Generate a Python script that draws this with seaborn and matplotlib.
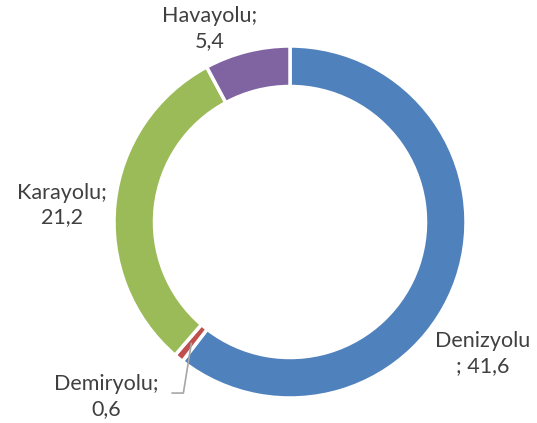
import numpy as np
import matplotlib
matplotlib.use('Agg')
import matplotlib.pyplot as plt
import seaborn as sns

labels = ['Denizyolu', 'Demiryolu', 'Karayolu', 'Havayolu']
values = [41.6, 0.6, 21.2, 5.4]
value_text = ['41,6', '0,6', '21,2', '5,4']
colors = ['#4F81BD', '#C0504D', '#9BBB59', '#8064A2']

sns.set_theme(style='white')
plt.rcParams['font.family'] = ['Lato', 'DejaVu Sans']

fig = plt.figure(figsize=(5.37, 4.23), dpi=100)
ax = fig.add_axes([114 / 537, 25 / 423, 352 / 537, 352 / 423])
wedges, _ = ax.pie(values, colors=colors, startangle=90, counterclock=False,
                   radius=1, wedgeprops=dict(width=0.23, edgecolor='white', linewidth=2.5))
ax.set_xlim(-1, 1)
ax.set_ylim(-1, 1)
ax.set_aspect('equal')
ax.axis('off')

txt = '#404040'
fs = 15.5
# label positions (data coords, outside the ring)
pos = {
    'Denizyolu': (1.095, -0.747),
    'Demiryolu': (-1.045, -0.99),
    'Karayolu': (-1.295, 0.097),
    'Havayolu': (-0.455, 1.10),
}
for lab, v in zip(labels, value_text):
    if lab == 'Denizyolu':
        s = lab + '\n; ' + v
    else:
        s = lab + ';\n' + v
    x, y = pos[lab]
    ax.text(x, y, s, ha='center', va='center', fontsize=fs, color=txt,
            linespacing=1.3, clip_on=False)

# leader line for the tiny Demiryolu slice
w = wedges[1]
mid = np.deg2rad((w.theta1 + w.theta2) / 2)
r = 0.885
x0, y0 = r * np.cos(mid), r * np.sin(mid)
ax.plot([x0, x0 - 0.046, x0 - 0.114], [y0, -0.972, -0.972], color='#A6A6A6',
        lw=1.2, clip_on=False, solid_capstyle='butt')

fig.savefig('out.png', dpi=100)
